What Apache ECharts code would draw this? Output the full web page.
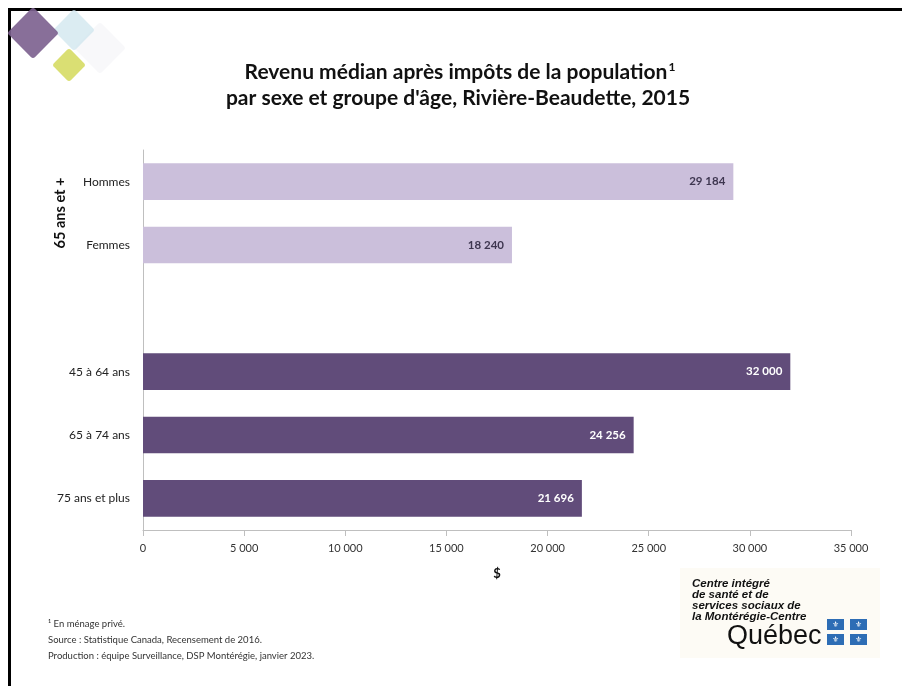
<!DOCTYPE html>
<html>
<head>
<meta charset="utf-8">
<script src="https://cdn.jsdelivr.net/npm/echarts@6/dist/echarts.min.js"></script>
<style>
html,body{margin:0;padding:0;background:#fff;}
#chart{width:902px;height:686px;}
</style>
</head>
<body>
<div id="chart"></div>
<script>
var categories = ['Hommes', 'Femmes', '', '45 à 64 ans', '65 à 74 ans', '75 ans et plus'];
var values = [29184, 18240, null, 32000, 24256, 21696];
var groupOf = ['senior', 'senior', 'gap', 'age', 'age', 'age'];
var xTicks = [0, 5000, 10000, 15000, 20000, 25000, 30000, 35000];
var groupLabel = '65 ans et +';
var titleLine1 = 'Revenu médian après impôts de la population';
var titleLine2 = "par sexe et groupe d'âge, Rivière-Beaudette, 2015";
var footnotes = ['¹ En ménage privé.', 'Source : Statistique Canada, Recensement de 2016.', 'Production : équipe Surveillance, DSP Montérégie, janvier 2023.'];
var logoLines = ['Centre intégré', 'de santé et de', 'services sociaux de', 'la Montérégie-Centre'];

function fmt(v){ return String(v).replace(/\B(?=(\d{3})+(?!\d))/g, '\u202f'); }

var colors = { senior: '#CBBFDB', age: '#614C7A', gap: '#ffffff' };
var labelColors = { senior: '#3E3650', age: '#ffffff', gap: '#ffffff' };

var seriesData = values.map(function(v, i){
  return {
    value: v,
    itemStyle: { color: colors[groupOf[i]] },
    label: { color: labelColors[groupOf[i]] }
  };
});

var chart = echarts.init(document.getElementById('chart'), null, {renderer:'canvas'});
var FONT = 'Lato, "Open Sans", sans-serif';

function diamond(cx, cy, r, color, opacity){
  return {
    type: 'rect',
    x: cx, y: cy,
    rotation: Math.PI/4,
    originX: 0, originY: 0,
    shape: { x: -r/Math.SQRT2, y: -r/Math.SQRT2, width: r*Math.SQRT2, height: r*Math.SQRT2, r: 3 },
    style: { fill: color, opacity: opacity },
    silent: true
  };
}

var graphics = [
  // frame
  { type:'rect', shape:{x:8, y:8, width:900, height:3}, style:{fill:'#000'} },
  { type:'rect', shape:{x:8, y:8, width:3, height:690}, style:{fill:'#000'} },
  // decorative diamonds
  diamond(100, 48, 26, '#F4F4F7', 0.6),
  diamond(74, 30, 21, '#CFE5EE', 0.75),
  diamond(33, 33, 26, '#7B5F8E', 0.9),
  diamond(69, 65, 17, '#D8DD6C', 0.95),
  // title
  { type:'text', x:460, y:72, style:{ text:'{t|' + titleLine1 + '}{s|1}', rich:{ t:{fontSize:21, fontWeight:'bold', fontFamily:FONT, fill:'#111'}, s:{fontSize:12, fontWeight:'bold', fontFamily:FONT, fill:'#111', verticalAlign:'top', padding:[0,0,10,1]} }, textAlign:'center', textVerticalAlign:'middle' } },
  { type:'text', x:458, y:98, style:{ text:titleLine2, fontSize:21, fontWeight:'bold', fontFamily:FONT, fill:'#111', textAlign:'center', textVerticalAlign:'middle' } },
  // group label
  { type:'text', x:60, y:213, rotation:Math.PI/2, style:{ text:groupLabel, fontSize:14.5, fontWeight:'bold', fontFamily:FONT, fill:'#111', textAlign:'center', textVerticalAlign:'middle' } },
  // footnotes
  { type:'text', x:48, y:624, style:{ text:footnotes[0], fontSize:9.5, fontFamily:FONT, fill:'#333', textVerticalAlign:'middle' } },
  { type:'text', x:48, y:640, style:{ text:footnotes[1], fontSize:9.5, fontFamily:FONT, fill:'#333', textVerticalAlign:'middle' } },
  { type:'text', x:48, y:656, style:{ text:footnotes[2], fontSize:9.5, fontFamily:FONT, fill:'#333', textVerticalAlign:'middle' } },
  // logo background
  { type:'rect', shape:{x:680, y:568, width:200, height:90}, style:{fill:'#FDFBF5'} },
  { type:'text', x:692, y:578, style:{ text:logoLines.join('\n'), fontSize:11.5, lineHeight:11, fontWeight:'bold', fontStyle:'italic', fontFamily:'"Liberation Sans", Arial, sans-serif', fill:'#111', textVerticalAlign:'top' } },
  { type:'text', x:727, y:637, style:{ text:'Québec', fontSize:27, fontFamily:'"Liberation Sans", sans-serif', fill:'#111', textVerticalAlign:'middle' } }
];
// flags
[[827,619],[850,619],[827,634],[850,634]].forEach(function(p){
  graphics.push({ type:'rect', shape:{x:p[0], y:p[1], width:17, height:11}, style:{fill:'#2D6DB5'} });
  graphics.push({ type:'text', x:p[0]+8.5, y:p[1]+5.5, style:{ text:'⚜', fontSize:8, fill:'#fff', textAlign:'center', textVerticalAlign:'middle', fontFamily:'"DejaVu Sans"' } });
});

chart.setOption({
  animation: false,
  backgroundColor: '#fff',
  grid: { left: 143, right: 51, top: 150, height: 380, containLabel: false },
  xAxis: {
    type: 'value', min: 0, max: 35000, interval: 5000,
    axisLine: { show: true, lineStyle: { color: '#BFBFBF' } },
    axisTick: { show: true, length: 6, lineStyle: { color: '#BFBFBF' } },
    splitLine: { show: false },
    axisLabel: { fontSize: 11, color: '#333', fontFamily: FONT, margin: 13, formatter: function(v){ return fmt(v); } },
    name: '$', nameLocation: 'middle', nameGap: 37,
    nameTextStyle: { fontSize: 13, fontWeight: 'bold', color: '#111', fontFamily: FONT }
  },
  yAxis: {
    type: 'category', data: categories, inverse: true,
    axisLine: { show: true, lineStyle: { color: '#BFBFBF' } },
    axisTick: { show: false },
    axisLabel: { fontSize: 12, color: '#222', fontFamily: FONT, margin: 13 }
  },
  series: [{
    type: 'bar',
    data: seriesData,
    barWidth: '58%',
    label: {
      show: true, position: 'insideRight', distance: 8,
      fontSize: 11.5, fontWeight: 'bold', fontFamily: FONT,
      formatter: function(p){ return p.value == null ? '' : fmt(p.value); }
    }
  }],
  graphic: graphics
});
</script>
</body>
</html>
